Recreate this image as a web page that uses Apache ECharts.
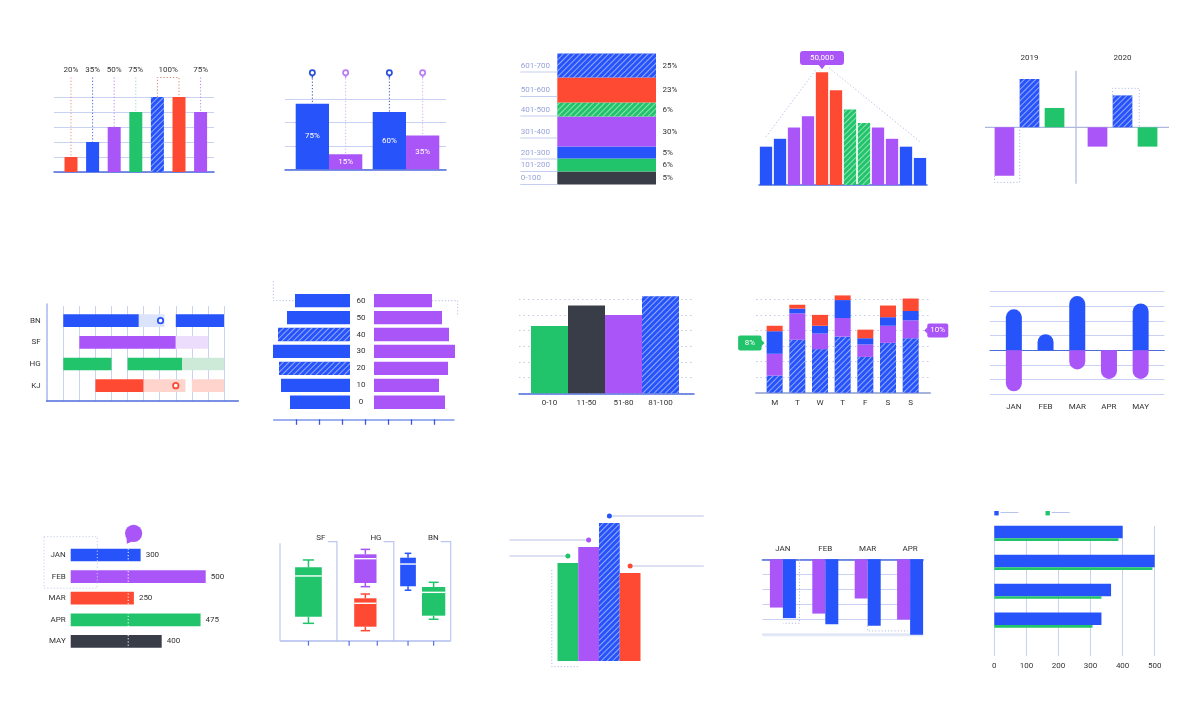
<!DOCTYPE html>
<html><head><meta charset="utf-8"><title>Bar chart collection</title>
<script src="https://cdn.jsdelivr.net/npm/echarts@6.0.0/dist/echarts.min.js"></script>
<style>html,body{margin:0;padding:0;background:#fff;}#main{width:1200px;height:720px;}</style>
</head><body><div id="main"></div>
<script>
// ================= DATA =================
// Panel 1 – columns with percentage call-outs
const p1Slots = ['A','B','C','D','E','F','G'];
const p1Values = [20, 40, 60, 80, 100, 100, 80];
const p1Labels = ['20%', '35%', '50%', '75%', '100%', '75%'];
const p1LabelBars = [[0], [1], [2], [3], [4, 5], [6]];
// Panel 2 – grouped columns with pins
const p2Groups = ['A', 'B'];
const p2Blue = [70, 61];
const p2Purple = [16, 36];
const p2BlueText = ['75%', '60%'];
const p2PurpleText = ['15%', '35%'];
// Panel 3 – single stacked column (bottom to top)
const p3Ranges = ['0-100', '101-200', '201-300', '301-400', '401-500', '501-600', '601-700'];
const p3Values = [13, 13, 12, 30, 14, 25, 24];
const p3Shares = ['5%', '6%', '5%', '30%', '6%', '23%', '25%'];
// Panel 4 – histogram with peak
const p4Slots = ['1','2','3','4','5','6','7','8','9','10','11','12'];
const p4Values = [17000, 20500, 25500, 30500, 50000, 42000, 33500, 27500, 25500, 20500, 17000, 12000];
// Panel 5 – positive / negative by year
const p5Years = ['2019', '2020'];
const p5Purple = [-50, -20];
const p5Blue = [50, 33];
const p5Green = [20, -20];
// Panel 6 – gantt rows: [row, start, end, light]
const p6Rows = ['BN', 'SF', 'HG', 'KJ'];
const p6Spans = [[0,0,4.7,0],[0,4.7,6.3,1],[0,7,10,0],[1,1,7,0],[1,7,9,1],[2,0,3,0],[2,4,7.4,0],[2,7.4,10,1],[3,2,5,0],[3,5,7.6,1],[3,8,10,1]];
const p6Marks = [[0, 6.05], [3, 7]];
// Panel 7 – butterfly
const p7Ticks = ['0', '10', '20', '30', '40', '50', '60'];
const p7Left = [60, 69, 71, 77, 72, 63, 55];
const p7Right = [71, 65, 74, 81, 75, 68, 58];
// Panel 8 – range columns
const p8Ranges = ['0-10', '11-50', '51-80', '81-100'];
const p8Values = [43, 56, 50, 62];
// Panel 9 – stacked week
const p9Days = ['M', 'T', 'W', 'T', 'F', 'S', 'S'];
const p9Base = [11, 34, 28, 36, 23, 32, 35];
const p9Mid = [14, 17, 10, 12, 8, 11, 11.5];
const p9Upper = [14.5, 3, 5, 11.5, 4, 5.5, 6];
const p9Top = [3.5, 2.5, 7, 3, 5.5, 7.5, 8];
const p9NoteDays = [0, 6];
const p9NoteValues = [32, 40];
const p9NoteTexts = ['8%', '10%'];
// Panel 10 – capsules up / down
const p10Months = ['JAN', 'FEB', 'MAR', 'APR', 'MAY'];
const p10Up = [28, 11, 37, 0, 32];
const p10Down = [-28, 0, -13, -19.5, -19.5];
// Panel 11 – horizontal bars
const p11Months = ['JAN', 'FEB', 'MAR', 'APR', 'MAY'];
const p11Values = [259, 500, 234, 481, 337];
const p11Labels = ['300', '500', '250', '475', '400'];
const p11Marker = 213;
// Panel 12 – box plots: position, min, q1, median, q3, max
const p12Groups = ['SF', 'HG', 'BN'];
const p12Pos = [1, 3, 3, 4.5, 5.4];
const p12Stats = [[17.8,24.5,65.5,74.2,81.6],[54.7,58.4,82.9,87.3,92.3],[10.4,14.4,38,43,47.3],[51.1,55.1,77.5,83.9,88.3],[21.9,25.5,49,54.4,59.1]];
const p12Ticks = [1, 2.43, 3.42, 4.5, 5.4];
// Panel 13 – four adjoining columns
const p13Bars = ['A', 'B', 'C', 'D'];
const p13Values = [98, 114, 138, 88];
// Panel 14 – hanging columns
const p14Months = ['JAN', 'FEB', 'MAR', 'APR'];
const p14Purple = [32, 36, 26, 40];
const p14Blue = [39, 43, 44, 50];
// Panel 15 – horizontal pairs
const p15Rows = ['1', '2', '3', '4'];
const p15Blue = [400, 500, 364, 334];
const p15Green = [387, 493, 334, 306];
const p15Ticks = [0, 100, 200, 300, 400, 500];

// ================= STYLE =================
const BLUE = '#2753FA', RED = '#FF4A33', PURPLE = '#A955F7', GREEN = '#22C46B', DARK = '#383D48';
const GRIDC = '#C9D2F2', AXISC = '#4D6CDB', DOT = '#B3BDE3', TXT = '#333333';
const FAM = 'Roboto, sans-serif';
const hatch = {symbol: 'rect', symbolSize: 1, dashArrayX: [1, 0], dashArrayY: [1, 3], rotation: -Math.PI / 4, color: 'rgba(255,255,255,0.5)'};
function fill(c, h) { return h ? {color: c, decal: hatch} : {color: c}; }
function lab(o) { return Object.assign({show: true, color: TXT, fontSize: 8, fontFamily: FAM, interval: 0}, o || {}); }

const grid = [], xAxis = [], yAxis = [], series = [];
function cat(data, o) { return Object.assign({type: 'category', data: data, axisLine: {show: false}, axisTick: {show: false}, axisLabel: {show: false}, splitLine: {show: false}}, o || {}); }
function val(min, max, o) { return Object.assign({type: 'value', min: min, max: max, axisLine: {show: false}, axisTick: {show: false}, axisLabel: {show: false}, splitLine: {show: false}}, o || {}); }
function addGrid(box, x, y) {
  const i = grid.length;
  grid.push(Object.assign({containLabel: false, outerBoundsMode: 'none'}, box));
  xAxis.push(Object.assign({gridIndex: i}, x));
  yAxis.push(Object.assign({gridIndex: i}, y));
  return i;
}
function bar(gi, o) { series.push(Object.assign({type: 'bar', xAxisIndex: gi, yAxisIndex: gi, animation: false}, o)); }
function deco(gi, draw, z) {
  series.push({type: 'custom', xAxisIndex: gi, yAxisIndex: gi, z: z == null ? 5 : z, silent: true, clip: false, data: [[0, 0]],
    renderItem: function (params, api) { return {type: 'group', children: draw(api)}; }});
}
function T(text, x, y, o) {
  return {type: 'text', style: Object.assign({text: text, x: x, y: y, fill: TXT, font: '8px ' + FAM, align: 'center', verticalAlign: 'middle', textAlign: 'center', textVerticalAlign: 'middle'}, o || {})};
}
function L(pts, color, dash, w) { return {type: 'polyline', shape: {points: pts}, style: {stroke: color, fill: null, lineWidth: w || 1, lineDash: dash || null}}; }
const hLine = (w, c) => ({show: true, onZero: false, lineStyle: {color: c || AXISC, width: w || 1.5}});
const split = (c, t) => ({show: true, lineStyle: {color: c || GRIDC, width: 1, type: t || 'solid'}});

// ================= PANEL 1 =================
(function () {
  addGrid({left: 54, top: 97, width: 160, height: 75}, val(0, 1, {axisLine: hLine(1.5)}), val(0, 100, {interval: 20, splitLine: split()}));
  const g = addGrid({left: 60.2, top: 97, width: 151.2, height: 75}, cat(p1Slots), val(0, 100));
  const cols = [RED, BLUE, PURPLE, GREEN, BLUE, RED, PURPLE], hat = [0, 0, 0, 0, 1, 0, 0];
  bar(g, {barWidth: 13, data: p1Values.map((v, i) => ({value: v, itemStyle: fill(cols[i], hat[i])}))});
  const lc = ['#E9907F', '#3F63EA', '#B884F5', '#93DDB5', '#D8826E', '#B884F5'];
  deco(g, api => {
    const out = [];
    const topY = api.coord([0, 126])[1], ly = api.coord([0, 136])[1];
    p1Labels.forEach((t, k) => {
      const pts = p1LabelBars[k].map(b => api.coord([b, p1Values[b]]));
      const cx = pts.reduce((s, p) => s + p[0], 0) / pts.length;
      out.push(T(t, cx, ly));
      if (pts.length === 1) out.push(L([[cx, topY], [cx, pts[0][1]]], lc[k], [1.2, 2]));
      else out.push(L([[pts[0][0], pts[0][1]], [pts[0][0], topY], [pts[1][0], topY], [pts[1][0], pts[1][1]]], lc[k], [1.2, 2]));
    });
    return out;
  }, 1);
})();

// ================= PANEL 2 =================
(function () {
  addGrid({left: 285, top: 99, width: 161, height: 70.3}, val(0, 1, {axisLine: hLine(1.5)}), val(0, 75, {interval: 25, splitLine: split()}));
  const g = addGrid({left: 290.5, top: 99, width: 154, height: 70.3}, cat(p2Groups), val(0, 75));
  const inside = (arr) => ({show: true, position: 'inside', color: '#fff', fontSize: 8, fontFamily: FAM, formatter: p => arr[p.dataIndex]});
  bar(g, {barWidth: 33.3, barGap: '0%', data: p2Blue, itemStyle: {color: BLUE}, label: inside(p2BlueText)});
  bar(g, {barWidth: 33.3, barGap: '0%', data: p2Purple, itemStyle: {color: PURPLE}, label: inside(p2PurpleText)});
  deco(g, api => {
    const out = [];
    const pinY = api.coord([0, 103])[1], lineTop = api.coord([0, 97])[1];
    [[p2Blue, -16.65, '#2B4FD8', '#35509E'], [p2Purple, 16.65, '#B77CF6', '#D3ABF9']].forEach(([arr, dx, pc, lc]) => {
      arr.forEach((v, i) => {
        const q = api.coord([i, v]);
        const x = q[0] + dx;
        out.push(L([[x, lineTop], [x, q[1]]], lc, [1.2, 2]));
        out.push(L([[x, pinY + 2], [x, pinY + 5]], pc, null, 1.5));
        out.push({type: 'circle', shape: {cx: x, cy: pinY, r: 2.6}, style: {fill: '#fff', stroke: pc, lineWidth: 1.7}});
      });
    });
    return out;
  }, 1);
})();

// ================= PANEL 3 =================
(function () {
  const g = addGrid({left: 557.3, top: 53.5, width: 98.7, height: 131}, cat(['all']), val(0, 131));
  const cols = [DARK, GREEN, BLUE, PURPLE, GREEN, RED, BLUE], hat = [0, 0, 0, 0, 1, 0, 1];
  p3Values.forEach((v, i) => bar(g, {stack: 'p3', barWidth: '100%', data: [v], itemStyle: fill(cols[i], hat[i])}));
  deco(g, api => {
    const out = [];
    let acc = 0;
    const band = api.size([1, 1])[0];
    const xl = api.coord([0, 0])[0] - band / 2, xr = xl + band;
    p3Values.forEach((v, i) => {
      const y0 = api.coord([0, acc])[1], y1 = api.coord([0, acc + v])[1];
      acc += v;
      const cy = (y0 + y1) / 2;
      out.push(T(p3Ranges[i], xl - 36.6, cy, {align: 'left', textAlign: 'left', fill: '#97A3D8'}));
      out.push(L([[xl - 37, cy + 6.5], [xl, cy + 6.5]], '#C5CEF0', null, 1));
      out.push(T(p3Shares[i], xr + 6.5, cy, {align: 'left', textAlign: 'left'}));
    });
    return out;
  });
})();

// ================= PANEL 4 =================
(function () {
  const g = addGrid({left: 759, top: 72.3, width: 168, height: 112.7},
    cat(p4Slots, {offset: 2.7, axisLine: {show: true, lineStyle: {color: AXISC, width: 1.5}}}), val(0, 50000));
  const cols = [BLUE, BLUE, PURPLE, PURPLE, RED, RED, GREEN, GREEN, PURPLE, PURPLE, BLUE, BLUE], hat = [0,0,0,0,0,0,1,1,0,0,0,0];
  bar(g, {barWidth: 12.3, data: p4Values.map((v, i) => ({value: v, itemStyle: fill(cols[i], hat[i])}))});
  deco(g, api => {
    const out = [];
    const band = api.size([1, 1])[0];
    const a = api.coord([0, 21400]), b = api.coord([4, 51000]);
    out.push(L([[a[0], a[1]], [b[0] - 0.45 * band, b[1]]], DOT, [1.2, 2.2]));
    const c = api.coord([4, 52000]), d = api.coord([11, 19200]);
    out.push(L([[c[0] + 0.5 * band, c[1]], [d[0], d[1]]], DOT, [1.2, 2.2]));
    const peakIdx = p4Values.indexOf(Math.max.apply(null, p4Values));
    const pk = api.coord([peakIdx, p4Values[peakIdx]]);
    out.push({type: 'rect', shape: {x: pk[0] - 22, y: pk[1] - 21.3, width: 44, height: 14, r: 3}, style: {fill: PURPLE}});
    out.push({type: 'polygon', shape: {points: [[pk[0] - 3.5, pk[1] - 7.5], [pk[0] + 3.5, pk[1] - 7.5], [pk[0], pk[1] - 3]]}, style: {fill: PURPLE}});
    out.push(T(p4Values[peakIdx].toLocaleString('en-US'), pk[0], pk[1] - 14.3, {fill: '#fff'}));
    return out;
  });
})();

// ================= PANEL 5 =================
(function () {
  const g = addGrid({left: 983, top: 69.3, width: 186, height: 116},
    cat(p5Years, {position: 'top', axisLabel: lab({margin: 7})}), val(-60, 60));
  bar(g, {barWidth: 19.7, barGap: '27%', data: p5Purple, itemStyle: {color: PURPLE}});
  bar(g, {barWidth: 19.7, barGap: '27%', data: p5Blue, itemStyle: fill(BLUE, 1)});
  bar(g, {barWidth: 19.7, barGap: '27%', data: p5Green, itemStyle: {color: GREEN}});
  deco(g, api => {
    const out = [];
    const band = api.size([1, 1])[0];
    const P = (c, dx, v) => { const q = api.coord([c, v]); return [q[0] + dx, q[1]]; };
    out.push(L([P(0, -band / 2 + 2, 0), P(1, band / 2, 0)], '#AEB8DD', null, 1.2));
    out.push(L([P(0, band / 2, 58.5), P(0, band / 2, -58.5)], '#AEB8DD', null, 1.2));
    out.push(L([P(0, -35, -50), P(0, -35, -57), P(0, -9.85, -57), P(0, -9.85, 0)], DOT, [1.2, 2]));
    out.push(L([P(1, -9.85, 33), P(1, -9.85, 40.3), P(1, 16.8, 40.3), P(1, 16.8, 0)], DOT, [1.2, 2]));
    return out;
  }, 1);
})();

// ================= PANEL 6 =================
(function () {
  addGrid({left: 46.7, top: 304, width: 191.6, height: 97},
    val(0, 1, {axisLine: hLine(1.5)}), val(0, 1, {axisLine: hLine(1.5, '#A9B7EE')}));
  addGrid({left: 63.3, top: 306, width: 160.7, height: 95}, val(0, 10, {interval: 1, splitLine: split()}), val(0, 1));
  const g = addGrid({left: 63.3, top: 309.8, width: 160.7, height: 86.7}, val(0, 10),
    cat(p6Rows, {inverse: true, axisLabel: lab({margin: 22.6})}));
  const solid = [BLUE, PURPLE, GREEN, RED], light = ['#DCE4FD', '#ECDDFD', '#CDEAD9', '#FFD4CC'];
  series.push({type: 'custom', xAxisIndex: g, yAxisIndex: g, z: 3, encode: {x: [1, 2], y: 0}, data: p6Spans,
    renderItem: function (params, api) {
      const r = api.value(0), s = api.value(1), e = api.value(2), k = api.value(3);
      const a = api.coord([s, r]), b = api.coord([e, r]);
      const h = 12.7;
      return {type: 'rect', shape: {x: a[0], y: a[1] - h / 2, width: b[0] - a[0], height: h}, style: {fill: k ? light[r] : solid[r]}};
    }});
  deco(g, api => p6Marks.map(m => {
    const q = api.coord([m[1], m[0]]);
    return {type: 'circle', shape: {cx: q[0], cy: q[1], r: 2.7}, style: {fill: '#fff', stroke: solid[m[0]], lineWidth: 1.8}};
  }), 6);
})();

// ================= PANEL 7 =================
(function () {
  const gl = addGrid({left: 272, top: 292.2, width: 78, height: 118.5}, val(0, 78, {inverse: true}), cat(p7Ticks));
  const gr = addGrid({left: 374, top: 292.2, width: 82, height: 118.5}, val(0, 82),
    cat(p7Ticks, {axisLabel: lab({align: 'center', margin: 13})}));
  addGrid({left: 273.7, top: 409.3, width: 180.3, height: 10}, val(0, 1, {axisLine: hLine(1.5, '#7F96EA')}), val(0, 1));
  addGrid({left: 296.7, top: 409.3, width: 137.3, height: 10},
    val(1, 7, {interval: 1, axisTick: {show: true, length: 5.5, lineStyle: {color: '#3A5AD8', width: 1.3}}}), val(0, 1));
  const hatL = [0, 0, 1, 0, 1, 0, 0];
  bar(gl, {barWidth: 13.3, data: p7Left.map((v, i) => ({value: v, itemStyle: fill(BLUE, hatL[i])}))});
  bar(gr, {barWidth: 13.3, data: p7Right, itemStyle: {color: PURPLE}});
  deco(gl, api => {
    const q = api.coord([p7Left[6], 6]);
    const cx = api.coord([76.7, 6])[0];
    return [L([[cx, q[1] - 19.5], [cx, q[1]], [q[0], q[1]]], DOT, [1.2, 2])];
  }, 1);
  deco(gr, api => {
    const q = api.coord([p7Right[6], 6]);
    const ex = api.coord([83.7, 6])[0];
    return [L([[q[0], q[1]], [ex, q[1]], [ex, q[1] + 16]], DOT, [1.2, 2])];
  }, 1);
})();

// ================= PANEL 8 =================
(function () {
  addGrid({left: 519, top: 299.3, width: 175, height: 94}, val(0, 1, {axisLine: hLine(1.5)}),
    val(0, 60, {interval: 10, splitLine: split('#C3CBE6', [1.5, 3])}));
  const g = addGrid({left: 531, top: 299.3, width: 148, height: 94}, cat(p8Ranges, {axisLabel: lab({margin: 6})}), val(0, 60));
  const cols = [GREEN, DARK, PURPLE, BLUE], hat = [0, 0, 0, 1];
  bar(g, {barWidth: '100%', clip: false, data: p8Values.map((v, i) => ({value: v, itemStyle: fill(cols[i], hat[i])}))});
})();

// ================= PANEL 9 =================
(function () {
  addGrid({left: 756, top: 299.3, width: 174, height: 93.4}, val(0, 1, {axisLine: hLine(2, '#A7B3DB')}),
    val(0, 60, {interval: 10, splitLine: split('#C3CBE6', [1.5, 3])}));
  const g = addGrid({left: 763.3, top: 299.3, width: 158.7, height: 93.4}, cat(p9Days, {axisLabel: lab({margin: 6.5})}), val(0, 60));
  bar(g, {stack: 'w', barWidth: 16, clip: false, data: p9Base, itemStyle: fill(BLUE, 1)});
  bar(g, {stack: 'w', barWidth: 16, clip: false, data: p9Mid, itemStyle: {color: PURPLE}});
  bar(g, {stack: 'w', barWidth: 16, clip: false, data: p9Upper, itemStyle: {color: BLUE}});
  bar(g, {stack: 'w', barWidth: 16, clip: false, data: p9Top, itemStyle: {color: RED}});
  const side = [-1, 1], widths = [23.4, 21], cols = [GREEN, PURPLE];
  deco(g, api => {
    const out = [];
    p9NoteDays.forEach((d, k) => {
      const q = api.coord([d, p9NoteValues[k]]);
      const y = q[1];
      if (side[k] < 0) {
        const tip = q[0] - 10.1;
        out.push({type: 'rect', shape: {x: tip - 3 - widths[k], y: y - 7.5, width: widths[k], height: 15, r: 2}, style: {fill: cols[k]}});
        out.push({type: 'polygon', shape: {points: [[tip, y], [tip - 3.5, y - 3.5], [tip - 3.5, y + 3.5]]}, style: {fill: cols[k]}});
        out.push(T(p9NoteTexts[k], tip - 3 - widths[k] / 2, y, {fill: '#fff'}));
      } else {
        const tip = q[0] + 13.6;
        out.push({type: 'rect', shape: {x: tip + 3, y: y - 7, width: widths[k], height: 14, r: 2}, style: {fill: cols[k]}});
        out.push({type: 'polygon', shape: {points: [[tip, y], [tip + 3.5, y - 3.5], [tip + 3.5, y + 3.5]]}, style: {fill: cols[k]}});
        out.push(T(p9NoteTexts[k], tip + 3 + widths[k] / 2, y, {fill: '#fff'}));
      }
    });
    return out;
  });
})();

// ================= PANEL 10 =================
(function () {
  addGrid({left: 990, top: 291.7, width: 174.3, height: 102.6},
    val(0, 1, {axisLine: {show: true, onZero: true, lineStyle: {color: AXISC, width: 1.2}}}),
    val(-30, 40, {interval: 10, splitLine: split()}));
  const g = addGrid({left: 998, top: 291.7, width: 158.5, height: 102.6},
    cat(p10Months, {axisLine: {show: false, onZero: false}, axisLabel: lab({margin: 9})}), val(-30, 40));
  bar(g, {barWidth: 16, barGap: '-100%', data: p10Up, itemStyle: {color: BLUE, borderRadius: [8, 8, 0, 0]}});
  bar(g, {barWidth: 16, barGap: '-100%', data: p10Down, itemStyle: {color: PURPLE, borderRadius: [0, 0, 8, 8]}});
})();

// ================= PANEL 11 =================
(function () {
  const g = addGrid({left: 70.7, top: 544.2, width: 135, height: 108}, val(0, 500),
    cat(p11Months, {inverse: true, axisLabel: lab({margin: 5})}));
  const cols = [BLUE, PURPLE, RED, GREEN, DARK];
  bar(g, {barWidth: 12.7, data: p11Values.map((v, i) => ({value: v, itemStyle: {color: cols[i]}})),
    label: {show: true, position: 'right', distance: 5, color: TXT, fontSize: 8, fontFamily: FAM, formatter: p => p11Labels[p.dataIndex]}});
  deco(g, api => {
    const out = [];
    const a = api.coord([p11Marker, 0]), b = api.coord([p11Marker, 4]);
    out.push(L([[a[0], a[1] - 6.4], [b[0], b[1] + 6.4]], '#ffffff', [1.2, 2], 1));
    const c = api.coord([233, 0]);
    const bx = c[0], by = c[1] - 21.7;
    out.push({type: 'polygon', shape: {points: [[bx - 7, by + 4], [bx - 1.5, by + 8.2], [bx - 6.8, by + 10.5]]}, style: {fill: PURPLE}});
    out.push({type: 'circle', shape: {cx: bx, cy: by, r: 8.6}, style: {fill: PURPLE}});
    const l = api.coord([-99, 0])[0], r = api.coord([98.5, 0])[0];
    const f = api.coord([0, 1]);
    out.push({type: 'rect', shape: {x: l, y: c[1] - 18.3, width: r - l, height: f[1] + 11.6 - (c[1] - 18.3)}, style: {fill: null, stroke: '#C5CCEE', lineWidth: 1, lineDash: [1.2, 2]}});
    return out;
  }, 6);
})();

// ================= PANEL 12 =================
(function () {
  const g = addGrid({left: 280, top: 541.7, width: 170.7, height: 99.3}, val(0, 6), val(0, 100));
  const cols = [GREEN, PURPLE, RED, BLUE, GREEN], widths = [26.7, 22.3, 22.3, 15.7, 23.3];
  series.push({type: 'custom', xAxisIndex: g, yAxisIndex: g, z: 3, data: p12Stats.map((s, i) => [p12Pos[i]].concat(s)),
    renderItem: function (params, api) {
      const i = params.dataIndex, x = api.value(0);
      const ys = [1, 2, 3, 4, 5].map(k => api.coord([x, api.value(k)])[1]);
      const cx = api.coord([x, 0])[0], w = widths[i], cw = w * 0.42, col = cols[i];
      const st = {stroke: col, lineWidth: 1.5, fill: null};
      return {type: 'group', children: [
        {type: 'line', shape: {x1: cx, y1: ys[4], x2: cx, y2: ys[3]}, style: st},
        {type: 'line', shape: {x1: cx, y1: ys[1], x2: cx, y2: ys[0]}, style: st},
        {type: 'line', shape: {x1: cx - cw / 2, y1: ys[4], x2: cx + cw / 2, y2: ys[4]}, style: st},
        {type: 'line', shape: {x1: cx - cw / 2, y1: ys[0], x2: cx + cw / 2, y2: ys[0]}, style: st},
        {type: 'rect', shape: {x: cx - w / 2, y: ys[3], width: w, height: ys[1] - ys[3]}, style: {fill: col}},
        {type: 'line', shape: {x1: cx - w / 2, y1: ys[2], x2: cx + w / 2, y2: ys[2]}, style: {stroke: '#fff', lineWidth: 1.4}}
      ]};
    }});
  const labelX = [1.6, 3.57, 5.58], segs = [[1.69, 2], [3.64, 4], [5.65, 6]];
  deco(g, api => {
    const out = [];
    const P = (x, y) => api.coord([x, y]);
    const FR = '#BCC7F0';
    out.push(L([P(0, 98.4), P(0, 0)], FR, null, 1.2));
    segs.forEach(s => out.push(L([P(s[0], 100), P(s[1], 100), P(s[1], 0)], FR, null, 1.2)));
    out.push(L([P(0, 0), P(6, 0)], '#AFBDF0', null, 1.5));
    p12Ticks.forEach(t => { const q = P(t, 0); out.push(L([[q[0], q[1]], [q[0], q[1] + 4.7]], '#5571DF', null, 1.2)); });
    p12Groups.forEach((n, i) => { const q = P(labelX[i], 103.4); out.push(T(n, q[0], q[1], {align: 'right', textAlign: 'right'})); });
    return out;
  }, 1);
})();

// ================= PANEL 13 =================
(function () {
  const g = addGrid({left: 557.5, top: 521, width: 83, height: 140}, cat(p13Bars), val(0, 140));
  const cols = [GREEN, PURPLE, BLUE, RED], hat = [0, 0, 1, 0], side = [-1, -1, 1, 1];
  bar(g, {barWidth: '100%', data: p13Values.map((v, i) => ({value: v, itemStyle: fill(cols[i], hat[i])}))});
  deco(g, api => {
    const out = [];
    const band = api.size([1, 1])[0];
    const gl = api.coord([0, 0])[0] - band / 2, gr = gl + 4 * band;
    p13Values.forEach((v, i) => {
      const q = api.coord([i, v]);
      const y = q[1] - 7;
      const xe = side[i] < 0 ? gl - 48 : gr + 63.3;
      out.push(L([[xe, y], [q[0], y]], '#B9C2E8', null, 1));
      out.push({type: 'circle', shape: {cx: q[0], cy: y, r: 2.5}, style: {fill: cols[i]}});
    });
    const a = api.coord([0, 91]), b = api.coord([0, -5.7]);
    out.push(L([[gl - 5.7, a[1]], [gl - 5.7, b[1]], [gl + band, b[1]]], DOT, [1.2, 2]));
    return out;
  });
})();

// ================= PANEL 14 =================
(function () {
  addGrid({left: 762.4, top: 559.3, width: 160.7, height: 75.4}, val(0, 1, {position: 'top', axisLine: hLine(1.5)}),
    val(0, 50, {inverse: true, interval: 10, splitLine: split()}));
  const g = addGrid({left: 761.7, top: 559.3, width: 169.6, height: 75.4},
    cat(p14Months, {position: 'top', axisLabel: lab({margin: 6})}), val(0, 50, {inverse: true}));
  bar(g, {barWidth: 13, barGap: '0%', data: p14Purple, itemStyle: {color: PURPLE}});
  bar(g, {barWidth: 13, barGap: '0%', data: p14Blue, itemStyle: {color: BLUE}});
  deco(g, api => {
    const out = [];
    const l = api.coord([0, 50]), r = api.coord([3, 50]);
    out.push(L([[762.4 - 762.4 + l[0] + 0.7 - api.size([1, 1])[0] / 2 + 0, l[1]], [r[0] + 13, r[1]]], '#E2E7F5', null, 3));
    const j0 = api.coord([0, 0]), j1 = api.coord([0, 42.4]);
    out.push(L([[j0[0] + 16.6, j0[1]], [j0[0] + 16.6, j1[1]], [j0[0], j1[1]]], DOT, [1.2, 2]));
    const m0 = api.coord([2, p14Blue[2]]), m1 = api.coord([3, 47.5]);
    out.push(L([[m0[0], m0[1]], [m0[0], m1[1]], [m1[0] - 2.2, m1[1]]], DOT, [1.2, 2]));
    return out;
  }, 1);
})();

// ================= PANEL 15 =================
(function () {
  const bg = addGrid({left: 994.3, top: 526, width: 160.4, height: 130},
    val(0, 500, {interval: 100, splitLine: split(), axisLabel: lab({margin: 5.5})}), val(0, 1));
  const g = addGrid({left: 994.3, top: 519, width: 160.4, height: 115.6}, val(0, 500), cat(p15Rows, {inverse: true}));
  bar(g, {barWidth: 12.5, barGap: '0%', data: p15Blue, itemStyle: {color: BLUE}});
  bar(g, {barWidth: 2.7, barGap: '0%', data: p15Green, itemStyle: {color: GREEN}});
  deco(bg, api => {
    const c = api.coord([0, 1]);
    const out = [];
    [[0, BLUE], [51.2, GREEN]].forEach(([dx, col]) => {
      out.push({type: 'rect', shape: {x: c[0] + dx, y: c[1] - 15, width: 4.4, height: 4.4}, style: {fill: col}});
      out.push(L([[c[0] + dx + 6.2, c[1] - 13.5], [c[0] + dx + 24.1, c[1] - 13.5]], '#B8C3EE', null, 1));
    });
    return out;
  });
})();

const chart = echarts.init(document.getElementById('main'), null, {renderer: 'canvas', width: 1200, height: 720});
chart.setOption({animation: false, backgroundColor: '#ffffff', grid: grid, xAxis: xAxis, yAxis: yAxis, series: series});
</script>
</body></html>
